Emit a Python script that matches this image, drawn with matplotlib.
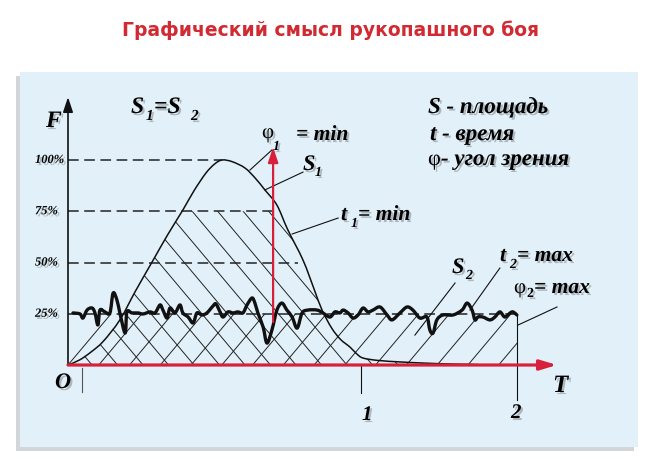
import matplotlib
matplotlib.use('Agg')
import matplotlib.pyplot as plt
import matplotlib.patheffects as pe
from matplotlib.patches import Rectangle, Polygon, PathPatch
from matplotlib.path import Path
import numpy as np

# time in arbitrary units (tick "1" at 100), force F in percent
bell_t = [0, 4, 8, 12, 17.7, 23, 29, 34, 39.2, 43, 47, 50, 52.6, 56, 60.4, 64, 67.2,
          71.3, 75, 80.2, 84, 86.7, 90, 93, 96.2, 98.5, 100.7, 106, 113.3, 122, 130.4, 140]
bell_f = [0, 2.5, 6.5, 11.5, 22, 36, 51, 63.5, 75.6, 85, 93.5, 98, 100, 99.2, 96.1, 91, 85.4,
          78, 66, 51.2, 37, 26.8, 18, 12.5, 8.8, 5.5, 3.4, 2.2, 1.5, 0.9, 0.5, 0.2]

wave_t = [1.7, 4.1, 5.1, 6.5, 8.2, 9.2, 10.2, 10.9, 12.6, 14.3, 15.4, 16.7, 17.7, 19.5, 20.1,
          21.8, 23.9, 25.6, 28.0, 29.7, 31.4, 32.4, 33.8, 34.8, 36.5, 38.2, 39.2, 41.0, 42.7,
          44.0, 45.7, 47.4, 49.5, 50.5, 51.9, 52.9, 54.6, 56.3, 58.0, 59.7, 61.1, 62.8, 63.8,
          64.8, 66.6, 67.9, 69.6, 71.3, 73.0, 74.7, 76.5, 78.2, 79.9, 81.9, 85.0, 87.0, 89.4,
          91.1, 92.8, 93.9, 95.6, 97.3, 99.0, 100.7, 102.4, 104.1, 106.5, 108.9, 110.6, 113.3,
          115.7, 117.7, 120.1, 122.5, 123.5, 124.6, 125.9, 128.0, 131.4, 134.5, 136.2, 137.9,
          138.9, 139.9, 141.6, 144.0, 145.7, 147.4, 149.1, 150.9, 151.9, 153.2]
wave_f = [25.4, 24.9, 22.9, 26.8, 27.8, 25.4, 19.5, 26.8, 25.9, 25.4, 35.1, 31.7, 25.4, 15.6, 25.9,
          25.4, 25.4, 24.9, 25.9, 25.4, 29.3, 26.8, 22.9, 27.8, 25.4, 29.3, 25.4, 23.4, 20.5,
          25.4, 24.4, 25.4, 28.8, 29.8, 25.9, 23.4, 25.9, 25.4, 25.9, 25.4, 29.3, 32.7, 30.2,
          25.4, 18.5, 10.7, 17.1, 26.8, 30.2, 26.8, 23.4, 18.0, 25.4, 26.8, 26.8, 25.4, 23.4,
          25.9, 25.4, 26.8, 25.4, 22.9, 24.4, 27.8, 25.9, 26.8, 28.3, 24.4, 22.0, 25.4,
          28.3, 26.8, 22.9, 23.4, 17.1, 15.6, 22.0, 24.4, 24.4, 26.8, 30.2, 26.8,
          22.0, 23.4, 23.4, 22.0, 23.4, 25.9, 23.4, 25.4, 25.9, 24.4]

levels = [100, 75, 50, 25]
level_ends = [52.6, 70.0, 78.5, 153.2]
level_labels = ['100%', '75%', '50%', '25%']

t_look = 70.0        # red arrow (phi1)
t_end = 153.2        # end of the long fight (tick "2")
t_one = 100.0        # tick "1"
t_zero = 4.8         # small tick near O
y_top = 130.7        # tip of F axis
x_right = 166.9      # tip of T axis
look_from, look_to = 21.0, 106.3

# leader lines: (start, end)
leaders = [((69.6, 104.9), (62.1, 95.1)),    # phi1
           ((80.2, 94.1), (67.2, 85.4)),     # S1
           ((92.2, 71.7), (76.5, 63.9)),     # t1
           ((132.1, 40.0), (118.4, 14.6)),   # S2
           ((147.4, 47.3), (137.2, 26.8)),   # t2
           ((166.9, 28.3), (153.6, 19.5))]   # phi2

W, H = 660, 468
RED = '#d8203a'
SER = 'Liberation Serif'
shadow = [pe.withSimplePatchShadow(offset=(1.5, -1.5), shadow_rgbFace='#333333', alpha=0.3)]

fig = plt.figure(figsize=(6.6, 4.68), dpi=100)
fig.patch.set_facecolor('white')
ax = fig.add_axes([0, 0, 1, 1])
ax.set_xlim(-23.21, 202.05)
ax.set_ylim(-50.24, 178.05)
ax.axis('off')

# panel with shadow
ax.add_patch(Rectangle((16 / W, 1 - 451 / H), 618 / W, 375 / H, transform=ax.transAxes,
                       facecolor='#d3d6d9', edgecolor='none', zorder=0))
ax.add_patch(Rectangle((20 / W, 1 - 447 / H), 618 / W, 375 / H, transform=ax.transAxes,
                       facecolor='#e2f1f9', edgecolor='none', zorder=0.5))


def smooth(xs, ys, **kw):
    # draw a curve through the points as a Catmull-Rom spline (cubic Bezier segments)
    p = np.column_stack([xs, ys]).astype(float)
    q = np.vstack([p[0], p, p[-1]])
    verts, codes = [p[0]], [Path.MOVETO]
    for i in range(1, len(q) - 2):
        c1 = q[i] + (q[i + 1] - q[i - 1]) / 6
        c2 = q[i + 1] - (q[i + 2] - q[i]) / 6
        verts += [c1, c2, q[i + 1]]
        codes += [Path.CURVE4] * 3
    ax.add_patch(PathPatch(Path(verts, codes), facecolor='none', **kw))


def put(px, py, s, size, style='italic', weight='bold', **kw):
    fig.text(px / W, 1 - py / H, s, fontsize=size, family=SER, style=style, weight=weight,
             va='baseline', path_effects=shadow, **kw)


# hatching of S1 (\) and S2 (/)
s1 = Polygon(list(zip(bell_t, np.minimum(bell_f, 75))) + [(bell_t[-1], 0), (0, 0)],
             closed=True, facecolor='none', edgecolor='none')
s2 = Polygon([(0, 0), (0, 25), (t_end, 25), (t_end, 0)], closed=True,
             facecolor='none', edgecolor='none')
ax.add_patch(s1)
ax.add_patch(s2)
k = 1.7
for x0 in np.arange(0, 170, 10.5):
    ln, = ax.plot([x0, x0 + 40], [0, 40 * k], color='#222222', lw=0.7, zorder=2)
    ln.set_clip_path(s2)
for x0 in np.arange(86.5 - 8.7 * 12, 160, 8.7):
    ln, = ax.plot([x0 - 60, x0], [60 * k, 0], color='#222222', lw=0.7, zorder=2)
    ln.set_clip_path(s1)

# dashed levels
for lv, end in zip(levels, level_ends):
    ax.plot([0, end], [lv, lv], color='#222222', lw=1.1, dashes=(7, 3.6), zorder=3)
for lv, lab in zip(levels, level_labels):
    fig.text(35 / W, 1 - (365 - lv * 2.05) / H, lab, fontsize=9, family=SER, style='italic',
             weight='bold', va='center', ha='left', path_effects=shadow)

# curves
smooth(bell_t, bell_f, edgecolor='#111111', lw=1.1, zorder=4)
smooth(wave_t, wave_f, edgecolor='#111111', lw=2.4, zorder=5, joinstyle='round',
       capstyle='round')

# leaders and ticks
for a, b in leaders:
    ax.plot([a[0], b[0]], [a[1], b[1]], color='#111111', lw=0.8, zorder=4)
ax.plot([t_end, t_end], [25, -17], color='#111111', lw=0.8, zorder=4)
ax.plot([t_one, t_one], [0, -13.7], color='#111111', lw=0.8, zorder=4)
ax.plot([t_zero, t_zero], [-1.5, -13.2], color='#555555', lw=0.8, zorder=4)

# axes arrows
ax.annotate('', xy=(0, y_top), xytext=(0, 0),
            arrowprops=dict(arrowstyle='-|>,head_length=0.9,head_width=0.3', color='#111111',
                            lw=1.2, shrinkA=0, shrinkB=0), zorder=6)
ax.annotate('', xy=(x_right, 0), xytext=(0, 0),
            arrowprops=dict(arrowstyle='-|>,head_length=1.0,head_width=0.3', color=RED,
                            lw=2.3, shrinkA=0, shrinkB=0), zorder=6)
ax.annotate('', xy=(t_look, look_to), xytext=(t_look, look_from),
            arrowprops=dict(arrowstyle='-|>,head_length=0.9,head_width=0.3', color=RED,
                            lw=1.6, shrinkA=0, shrinkB=0), zorder=6)

# labels
put(131, 113, 'S', 17)
put(146, 120, '1', 11)
put(154, 113, '=S', 17)
put(191, 120, '2', 11)

put(428, 113, 'S - площадь', 16.5)
put(430, 140, 't - время', 16.5)
put(428, 165, 'φ', 16, style='normal', weight='normal')
put(441, 165, '- угол зрения', 16.5)

put(262, 138, 'φ', 15, style='normal', weight='normal')
put(273, 150, '1', 10)
put(296, 140, '= min', 15.5)

put(303, 170, 'S', 16)
put(315, 176, '1', 10)

put(341, 220, 't', 15.5)
put(351, 227, '1', 10)
put(358, 220, '= min', 15.5)

put(452, 273, 'S', 16)
put(466, 279, '2', 10)

put(500, 261, 't', 15.5)
put(510, 268, '2', 10)
put(517, 261, '= max', 15.5)

put(514, 293, 'φ', 15, style='normal', weight='normal')
put(527, 297, '2', 10, style='normal')
put(534, 293, '= max', 15.5)

put(553, 392, 'T', 18)
put(55, 388, 'O', 16)
put(46, 127, 'F', 17)
put(362, 420, '1', 15)
put(511, 418, '2', 15)

fig.text(0.5, 1 - 30 / H, 'Графический смысл рукопашного боя', ha='center', va='center',
         color='#d12a33', fontsize=13.5, fontweight='bold', family='DejaVu Sans')

fig.savefig('out.png', dpi=100)
